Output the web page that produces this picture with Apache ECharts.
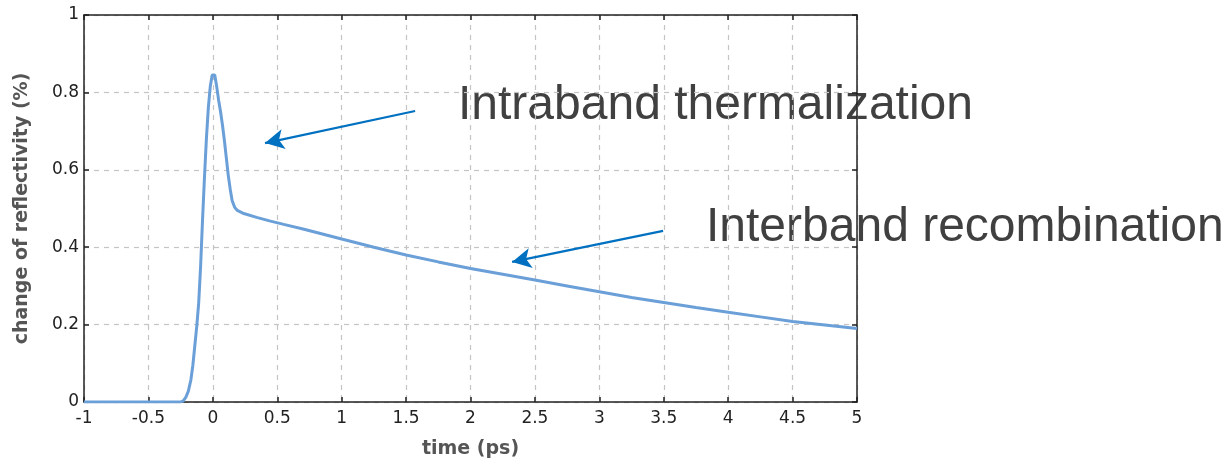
<!DOCTYPE html>
<html>
<head>
<meta charset="utf-8">
<script src="https://cdn.jsdelivr.net/npm/echarts@6/dist/echarts.min.js"></script>
<style>
  html, body { margin: 0; padding: 0; background: #ffffff; }
  #chart { width: 1231px; height: 459px; }
</style>
</head>
<body>
<div id="chart"></div>
<script>
// Pump-probe transient: time delay (ps) vs change of reflectivity (%)
const timePs = [
  -1, -0.25, -0.23, -0.21, -0.19, -0.17, -0.155, -0.14, -0.125, -0.11,
  -0.095, -0.08, -0.065, -0.05, -0.035, -0.02, -0.005, 0.005, 0.015, 0.03,
  0.045, 0.06, 0.075, 0.09, 0.105, 0.12, 0.135, 0.15, 0.17, 0.19,
  0.24, 0.34, 0.44, 0.55, 0.7, 1, 1.25, 1.5, 1.75, 2,
  2.25, 2.5, 2.75, 3, 3.25, 3.5, 3.75, 4, 4.25, 4.5, 4.75, 5
];
const reflectivity = [
  0, 0, 0.003, 0.012, 0.028, 0.058, 0.095, 0.145, 0.195, 0.255,
  0.35, 0.47, 0.58, 0.68, 0.76, 0.815, 0.845, 0.85, 0.845, 0.815,
  0.78, 0.75, 0.715, 0.675, 0.63, 0.585, 0.55, 0.52, 0.503, 0.495,
  0.487, 0.477, 0.468, 0.459, 0.447, 0.421, 0.4, 0.38, 0.362, 0.345,
  0.33, 0.315, 0.3, 0.285, 0.27, 0.257, 0.244, 0.232, 0.22, 0.208, 0.199, 0.19
];

// Annotation arrows, in data coordinates: [fromTime, fromValue, toTime, toValue]
const arrowIntraband = [1.57, 0.752, 0.405, 0.669];
const arrowInterband = [3.495, 0.442, 2.323, 0.362];
const labelIntraband = 'Intraband thermalization';
const labelInterband = 'Interband recombination';

const xTicks = { min: -1, max: 5, interval: 0.5 };
const yTicks = { min: 0, max: 1, interval: 0.2 };

const seriesData = timePs.map((t, i) => [t, reflectivity[i]]);

const axisLineStyle = { color: '#222222', width: 1.5 };
const gridLineStyle = { color: '#c4c4c4', width: 1.2, type: [5, 5] };
const tickLabelStyle = { color: '#222222', fontFamily: 'DejaVu Sans', fontSize: 17 };
const axisNameStyle = { color: '#555555', fontFamily: 'DejaVu Sans', fontWeight: 'bold', fontSize: 19 };

function arrowLine(a) {
  return [
    { coord: [a[0], a[1]], symbol: 'none' },
    { coord: [a[2], a[3]], symbol: 'arrow', symbolSize: [15, 19] }
  ];
}

const chart = echarts.init(document.getElementById('chart'), null, { renderer: 'canvas' });
chart.setOption({
  animation: false,
  backgroundColor: '#ffffff',
  grid: {
    left: 84, right: 374, top: 15, bottom: 57,
    containLabel: false, outerBoundsMode: 'none'
  },
  xAxis: [
    {
      type: 'value', min: xTicks.min, max: xTicks.max, interval: xTicks.interval,
      position: 'bottom',
      name: 'time (ps)', nameLocation: 'middle', nameGap: 38, nameTextStyle: axisNameStyle,
      axisLine: { show: true, onZero: false, lineStyle: axisLineStyle },
      axisTick: { show: true, inside: true, length: 5, lineStyle: axisLineStyle },
      axisLabel: Object.assign({ margin: 8 }, tickLabelStyle),
      splitLine: { show: true, lineStyle: gridLineStyle }
    },
    {
      type: 'value', min: xTicks.min, max: xTicks.max, interval: xTicks.interval,
      position: 'top',
      axisLine: { show: true, onZero: false, lineStyle: axisLineStyle },
      axisTick: { show: true, inside: true, length: 5, lineStyle: axisLineStyle },
      axisLabel: { show: false },
      splitLine: { show: false }
    }
  ],
  yAxis: [
    {
      type: 'value', min: yTicks.min, max: yTicks.max, interval: yTicks.interval,
      position: 'left',
      name: 'change of reflectivity (%)', nameLocation: 'middle', nameGap: 52, nameRotate: 90,
      nameTextStyle: axisNameStyle,
      axisLine: { show: true, onZero: false, lineStyle: axisLineStyle },
      axisTick: { show: true, inside: true, length: 5, lineStyle: axisLineStyle },
      axisLabel: Object.assign({ margin: 5 }, tickLabelStyle),
      splitLine: { show: true, lineStyle: gridLineStyle }
    },
    {
      type: 'value', min: yTicks.min, max: yTicks.max, interval: yTicks.interval,
      position: 'right',
      axisLine: { show: true, onZero: false, lineStyle: axisLineStyle },
      axisTick: { show: true, inside: true, length: 5, lineStyle: axisLineStyle },
      axisLabel: { show: false },
      splitLine: { show: false }
    }
  ],
  series: [
    {
      type: 'line',
      xAxisIndex: 0, yAxisIndex: 0,
      data: seriesData,
      showSymbol: false,
      smooth: false,
      lineStyle: { color: '#6a9fd8', width: 3 },
      markLine: {
        silent: true,
        animation: false,
        label: { show: false },
        lineStyle: { color: '#0070c0', width: 2.2, type: 'solid' },
        emphasis: { disabled: true },
        data: [arrowLine(arrowIntraband), arrowLine(arrowInterband)]
      },
      z: 3
    }
  ],
  graphic: [
    {
      type: 'text', left: 458, top: 82, silent: true,
      style: { text: labelIntraband, fill: '#404040', font: '48px "Liberation Sans", Arial, sans-serif' }
    },
    {
      type: 'text', left: 706, top: 204, silent: true,
      style: { text: labelInterband, fill: '#404040', font: '48px "Liberation Sans", Arial, sans-serif' }
    }
  ]
});
</script>
</body>
</html>
